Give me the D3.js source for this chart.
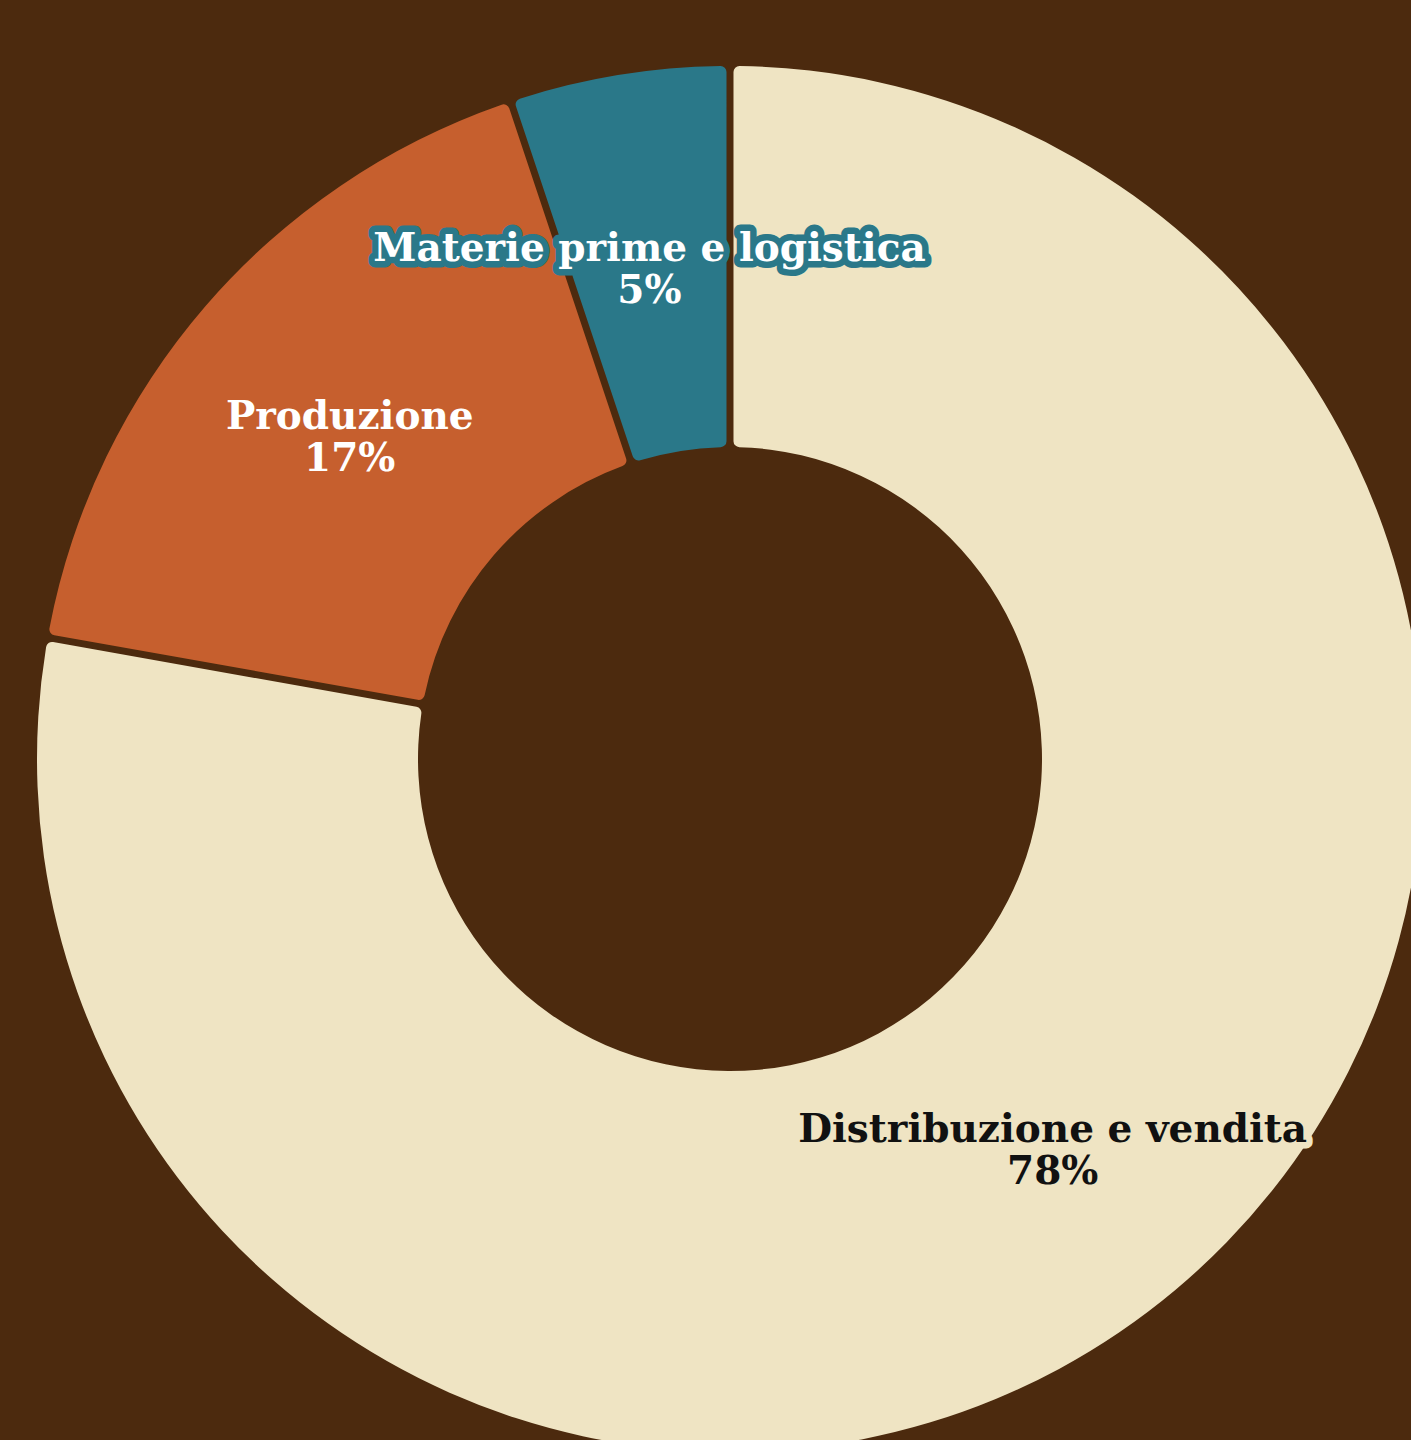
<!DOCTYPE html>
<html><head><meta charset="utf-8">
<script src="https://cdn.jsdelivr.net/npm/d3@7"></script>
<style>html,body{margin:0;padding:0;background:#4c2a0e;}svg{display:block;}</style>
</head><body>
<svg id="chart" width="1411" height="1440"></svg>
<script>
const categories = ["Distribuzione e vendita", "Produzione", "Materie prime e logistica"];
const values = [78, 17, 5];
const colors = ["#efe4c3", "#c65f2e", "#2a7889"];
const textColors = ["#111111", "#ffffff", "#ffffff"];

const data = categories.map((c, i) => ({name: c, value: values[i], color: colors[i], text: textColors[i]}));
const svg = d3.select("#chart");
svg.append("rect").attr("width", 1411).attr("height", 1440).attr("fill", "#4c2a0e");
const g = svg.append("g").attr("transform", "translate(730,759)");
const outer = 693, inner = 312;
const pie = d3.pie().value(d => d.value).sort(null).padAngle(0.0092);
const arc = d3.arc().innerRadius(inner).outerRadius(outer).cornerRadius(6);
const arcs = pie(data);
g.selectAll("path.slice").data(arcs).join("path").attr("class", "slice")
  .attr("d", arc).attr("fill", d => d.data.color);
const total = d3.sum(values);
const labelArc = d3.arc().innerRadius(inner).outerRadius(outer);
const labels = g.selectAll("text.lbl").data(arcs).join("text").attr("class", "lbl")
  .attr("transform", d => `translate(${labelArc.centroid(d)})`)
  .attr("text-anchor", "middle")
  .attr("font-family", "'DejaVu Serif', serif")
  .attr("font-weight", "bold")
  .attr("font-size", 39)
  .attr("fill", d => d.data.text)
  .attr("stroke", d => d.data.color)
  .attr("stroke-width", 13)
  .attr("stroke-linejoin", "round")
  .attr("paint-order", "stroke");
labels.append("tspan").attr("x", 0).attr("y", -2).text(d => d.data.name);
labels.append("tspan").attr("x", 0).attr("y", 40).text(d => Math.round(d.data.value / total * 100) + "%");
</script>
</body></html>
